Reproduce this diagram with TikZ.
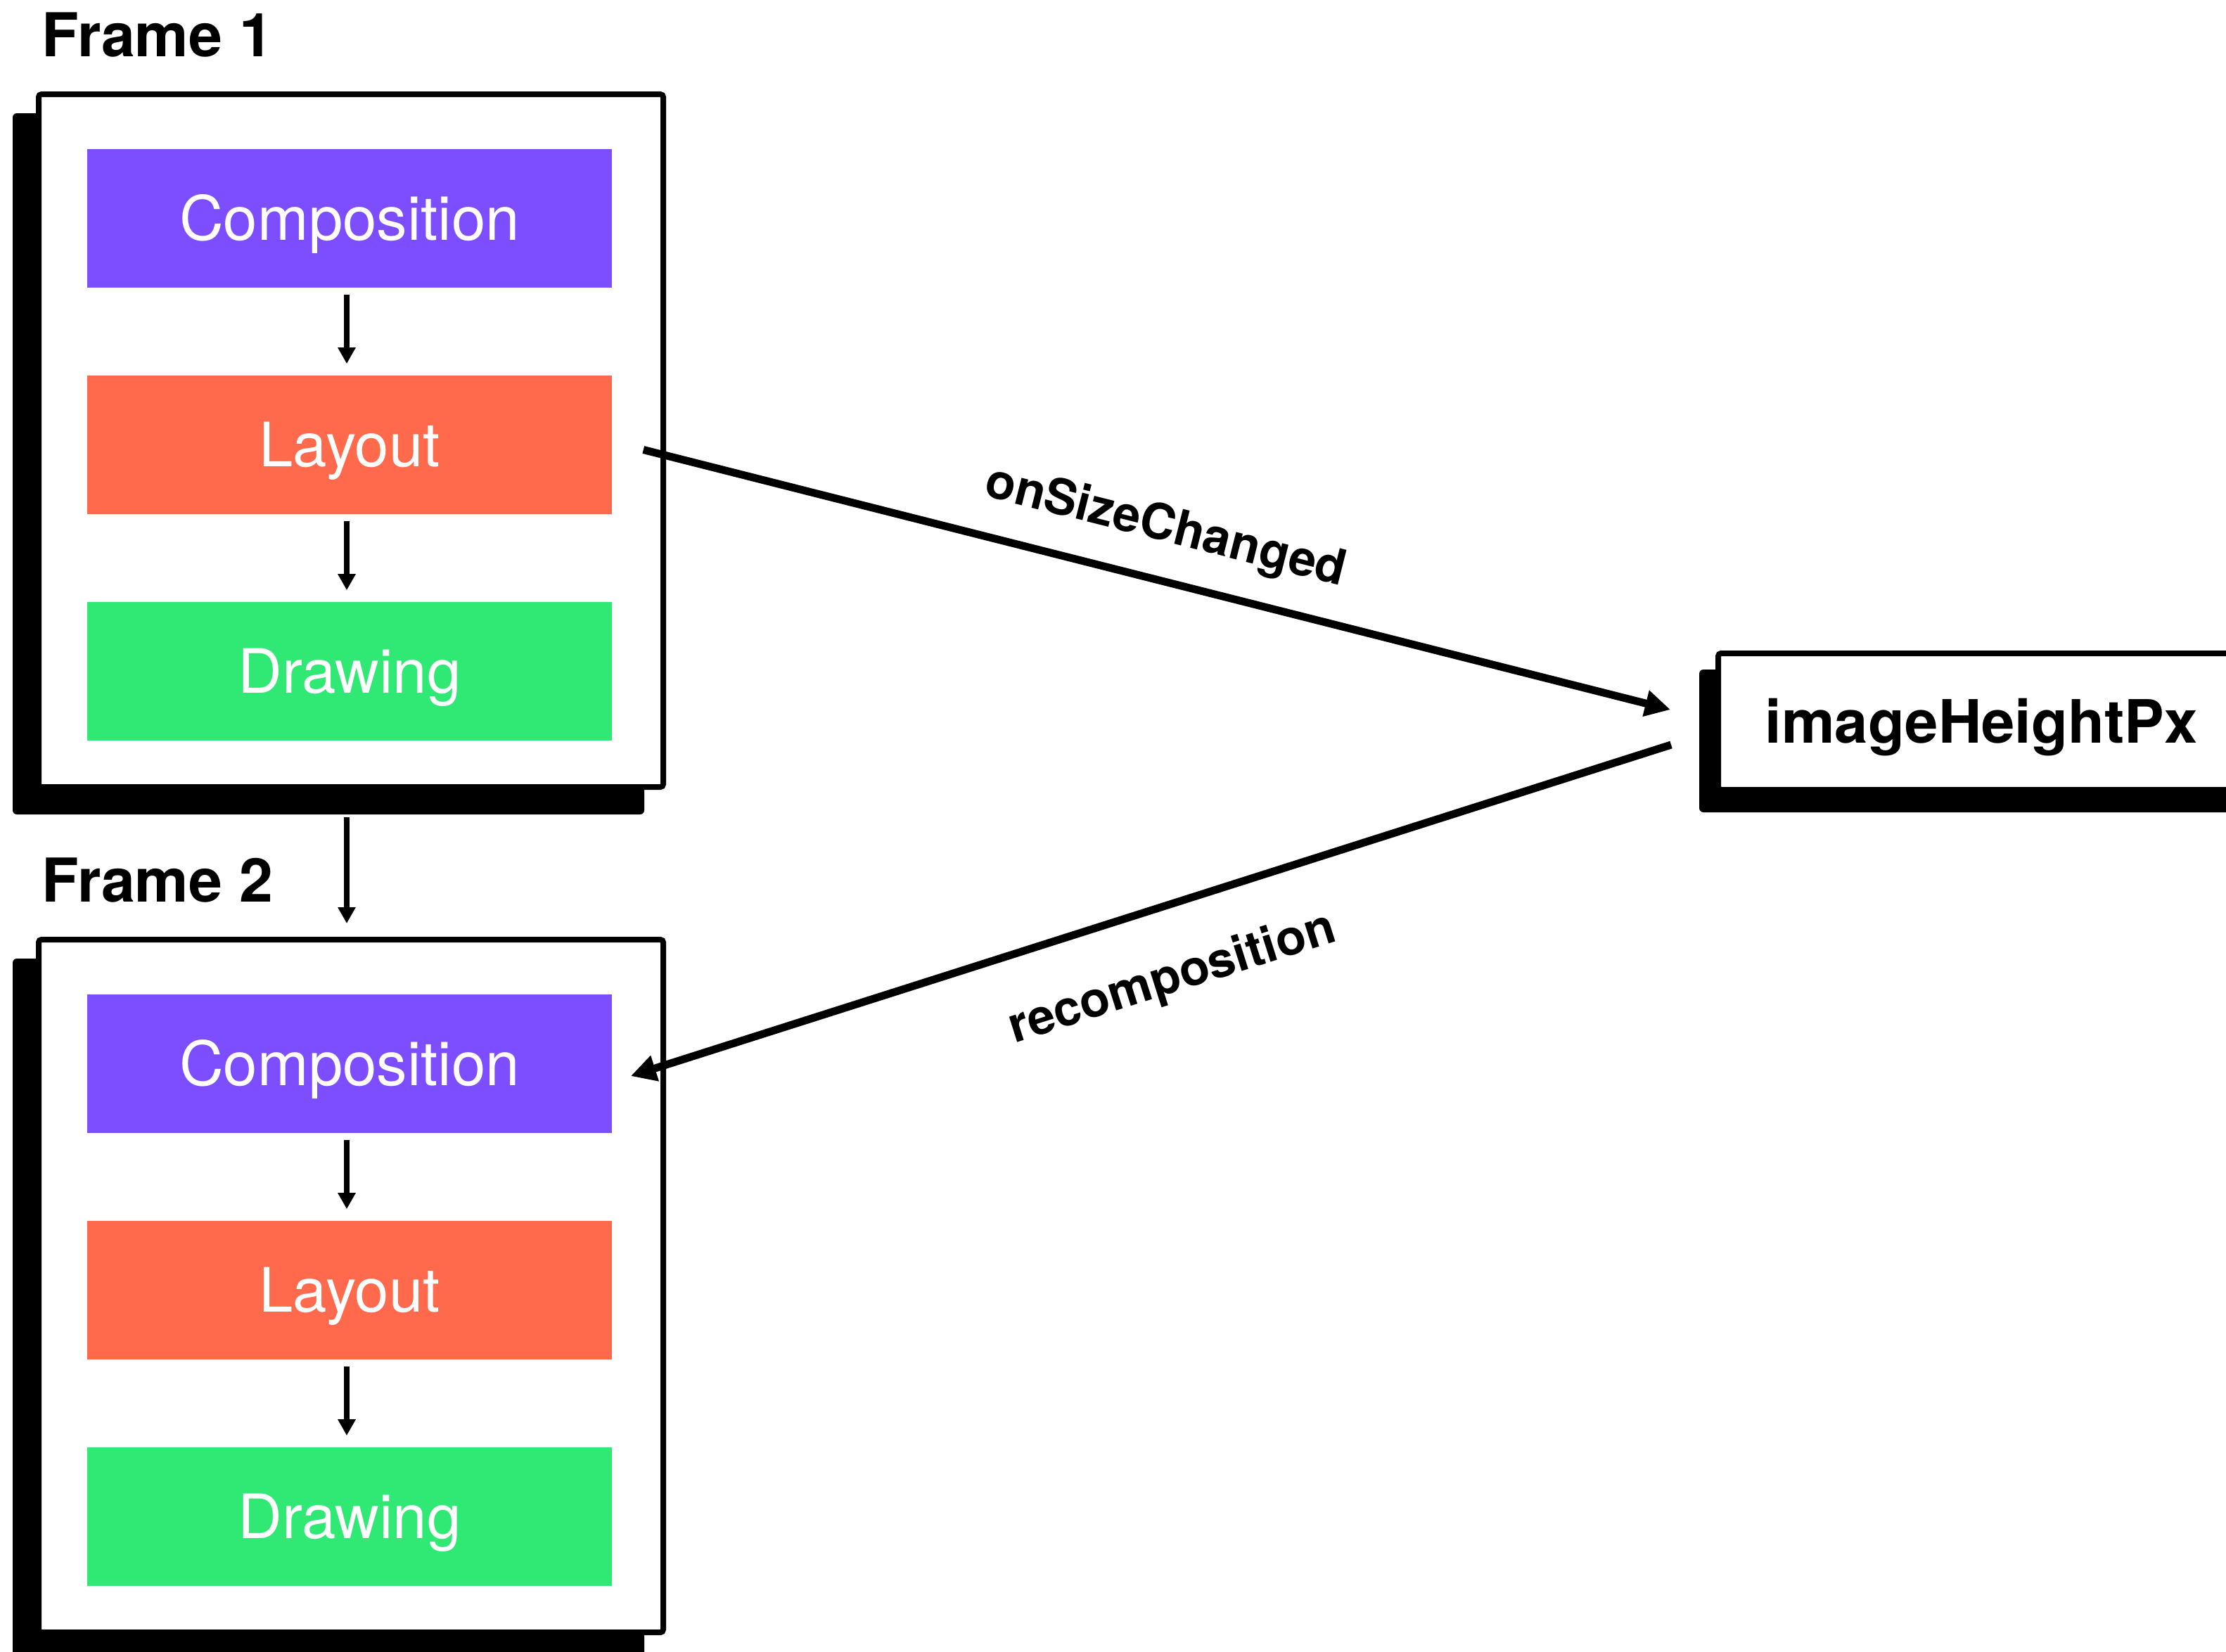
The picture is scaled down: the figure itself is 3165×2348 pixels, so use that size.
\documentclass[tikz,border=0pt]{standalone}
\usepackage{fontspec}
\setmainfont{TeX Gyre Heros}
\usetikzlibrary{arrows.meta,calc}
\definecolor{compo}{HTML}{7D4EFF}
\definecolor{layo}{HTML}{FF694C}
\definecolor{drawc}{HTML}{30E874}

\begin{document}
\begin{tikzpicture}[x=0.25pt,y=-0.25pt,
  phase/.style={inner sep=0pt, minimum width=186.5pt, minimum height=49.25pt,
    text height=15.6pt, text depth=0pt,
    text=white, font=\fontsize{21.75pt}{24pt}\selectfont},
  framebox/.style={draw=black, line width=2pt, fill=white, rounded corners=1pt,
    inner sep=0pt, minimum width=222pt, minimum height=246.25pt},
  statebox/.style={draw=black, line width=2pt, fill=white, rounded corners=1pt,
    inner sep=0pt, minimum width=187pt, minimum height=48.5pt,
    text height=15.3pt, text depth=0pt,
    font=\fontsize{21.25pt}{24pt}\selectfont\bfseries},
  framelabel/.style={anchor=base west, inner sep=0pt,
    font=\fontsize{21.5pt}{24pt}\selectfont\bfseries},
  shadowfill/.style={fill=black, rounded corners=1.5pt},
  steparrow/.style={line width=2pt, -{Triangle[length=5.75pt,width=6pt]}},
  flowarrow/.style={line width=2.75pt, -{Triangle[length=9pt,width=9pt]}},
  flowlabel/.style={inner sep=0pt, font=\fontsize{17.5pt}{20pt}\selectfont\bfseries}
]
\useasboundingbox (0,0) rectangle (3165,2348);
\clip (0,0) rectangle (3165,2348);

% ---- Frame 1 ----
\fill[shadowfill] (18,161) rectangle (916,1158);
\node[framebox] (f1) at (499,626.5) {};
\node[framelabel] (f1lab) at (59,80) {Frame 1};
\node[phase, fill=compo] (c1) at (497,310.5) {Composition};
\node[phase, fill=layo]  (l1) at (497,632.5) {Layout};
\node[phase, fill=drawc] (d1) at (497,954.5) {Drawing};
\draw[steparrow] ($(c1.south)+(-4,9)$) -- ($(l1.north)+(-4,-16)$);
\draw[steparrow] ($(l1.south)+(-4,9)$) -- ($(d1.north)+(-4,-16)$);

% ---- Frame 2 ----
\fill[shadowfill] (18,1363) rectangle (916,2360);
\node[framebox] (f2) at (499,1828.5) {};
\node[framelabel] (f2lab) at (59,1282) {Frame 2};
\node[phase, fill=compo] (c2) at (497,1512.5) {Composition};
\node[phase, fill=layo]  (l2) at (497,1834.5) {Layout};
\node[phase, fill=drawc] (d2) at (497,2156.5) {Drawing};
\draw[steparrow] ($(c2.south)+(-4,9)$) -- ($(l2.north)+(-4,-16)$);
\draw[steparrow] ($(l2.south)+(-4,9)$) -- ($(d2.north)+(-4,-16)$);

% frame 1 -> frame 2
\draw[steparrow] ($(f1.south)+(-6,39)$) -- ($(f2.north)+(-6,-19)$);

% ---- state ----
\fill[shadowfill] (2416,952) rectangle (3220,1155);
\node[statebox] (ih) at (2817,1026) {imageHeightPx};

% ---- size change and recomposition ----
\coordinate (s1) at ($(l1.east)+(44,7)$);
\coordinate (e1) at ($(ih.west)+(-64,-17)$);
\coordinate (s2) at ($(ih.west)+(-63,33)$);
\coordinate (e2) at ($(c2.east)+(26,17.5)$);
\draw[flowarrow] (s1) -- (e1);
\draw[flowarrow] (s2) -- (e2);
\node[flowlabel, rotate=-14.15] (lab1) at (1657,751) {onSizeChanged};
\node[flowlabel, rotate=17.6] (lab2) at (1667,1393) {recomposition};
\end{tikzpicture}
\end{document}
